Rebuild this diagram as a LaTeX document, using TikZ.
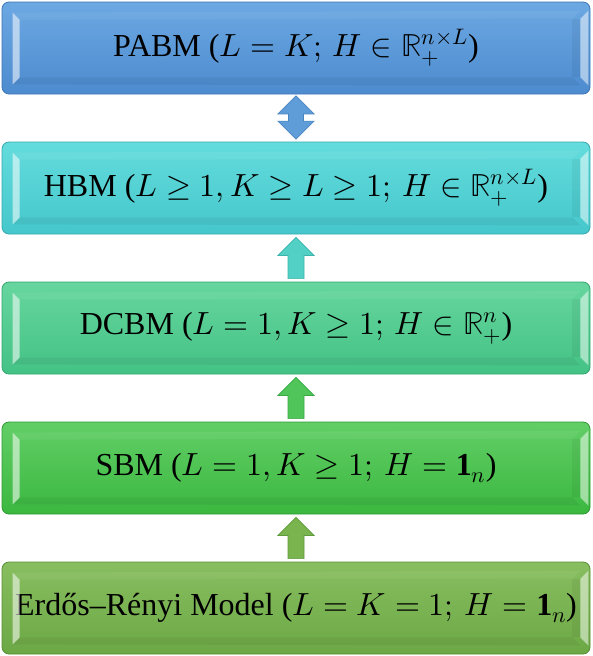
\documentclass[tikz,border=0pt]{standalone}
\usepackage{amsmath}
\usepackage{fontspec}
\usepackage{unicode-math}
\setmainfont{Liberation Serif}
\setmathfont{Latin Modern Math}
\usetikzlibrary{calc}
\definecolor{cAt}{HTML}{6CA8E2}\definecolor{cAb}{HTML}{4C8BCF}\definecolor{cAd}{HTML}{3F76B3}
\definecolor{cBt}{HTML}{64DCDD}\definecolor{cBb}{HTML}{45C7CB}\definecolor{cBd}{HTML}{35A9AE}
\definecolor{cCt}{HTML}{66D69E}\definecolor{cCb}{HTML}{44C285}\definecolor{cCd}{HTML}{34A46E}
\definecolor{cDt}{HTML}{62CE66}\definecolor{cDb}{HTML}{3BB840}\definecolor{cDd}{HTML}{2F9A34}
\definecolor{cEt}{HTML}{88BE60}\definecolor{cEb}{HTML}{6CA845}\definecolor{cEd}{HTML}{578E35}
\definecolor{aA}{HTML}{5E9DD8}\definecolor{aAd}{HTML}{4A84C0}
\definecolor{aB}{HTML}{52D0C6}\definecolor{aBd}{HTML}{3DB3AA}
\definecolor{aC}{HTML}{4FC55A}\definecolor{aCd}{HTML}{3AA845}
\definecolor{aD}{HTML}{7AB44F}\definecolor{aDd}{HTML}{5F9A3A}
\tikzset{
  modelbox/.style={rectangle, rounded corners=7pt, minimum width=588pt, minimum height=92pt,
    inner sep=0pt, line width=0.8pt, text=black, font=\fontsize{32}{38}\selectfont},
  blkarrow/.style={line width=0.7pt, line join=miter},
}
\newcommand\mybevel[1]{%
  \fill[white,opacity=0.55] ([xshift=11pt,yshift=-11pt]#1.north west) -- ([xshift=18pt,yshift=-18pt]#1.north west)
     -- ([xshift=18pt,yshift=17pt]#1.south west) -- ([xshift=11pt,yshift=10pt]#1.south west) -- cycle;
  \fill[black,opacity=0.05] ([xshift=-10pt,yshift=-17pt]#1.north east) -- ([xshift=-18pt,yshift=-17pt]#1.north east)
     -- ([xshift=-18pt,yshift=17pt]#1.south east) -- ([xshift=-10pt,yshift=17pt]#1.south east) -- cycle;
  \fill[white,opacity=0.5] ([xshift=-2pt,yshift=-9pt]#1.north east) -- ([xshift=-10pt,yshift=-17pt]#1.north east)
     -- ([xshift=-10pt,yshift=17pt]#1.south east) -- ([xshift=-2pt,yshift=9pt]#1.south east) -- cycle;
  \fill[black,opacity=0.05] ([xshift=11pt,yshift=10pt]#1.south west) -- ([xshift=18pt,yshift=17pt]#1.south west)
     -- ([xshift=-18pt,yshift=17pt]#1.south east) -- ([xshift=-10pt,yshift=9pt]#1.south east) -- cycle;
  \fill[white,opacity=0.06] ([xshift=11pt,yshift=-11pt]#1.north west) -- ([xshift=18pt,yshift=-18pt]#1.north west)
     -- ([xshift=-18pt,yshift=-17pt]#1.north east) -- ([xshift=-10pt,yshift=-9pt]#1.north east) -- cycle;
}
\newcommand\myuparrow[3]{%
  \path ([yshift=-3pt]#2.south) coordinate (t) ([yshift=3pt]#1.north) coordinate (s);
  \draw[blkarrow,#3] (t) -- ++(18,18) -- ++(-10,0) -- ([xshift=8pt]s) -- ([xshift=-8pt]s)
     -- ([xshift=-8pt,yshift=-18pt]t) -- ++(-10,0) -- cycle;
}
\begin{document}
\begin{tikzpicture}[x=1pt,y=-1pt]
\useasboundingbox (0,0) rectangle (592,656);
\node[modelbox, top color=cAt, bottom color=cAb, draw=cAd] (pabm) at (296,48)
  {PABM ($L = K;\, H \in \mathbb{R}_+^{n\times L}$)};
\node[modelbox, top color=cBt, bottom color=cBb, draw=cBd] (hbm) at (296,188)
  {HBM ($L \geq 1, K \geq L \geq 1;\, H \in \mathbb{R}_+^{n\times L}$)};
\node[modelbox, top color=cCt, bottom color=cCb, draw=cCd] (dcbm) at (296,328)
  {DCBM ($L = 1, K \geq 1;\, H \in \mathbb{R}_+^{n}$)};
\node[modelbox, top color=cDt, bottom color=cDb, draw=cDd] (sbm) at (296,468)
  {SBM ($L = 1, K \geq 1;\, H = \mathbf{1}_n$)};
\node[modelbox, top color=cEt, bottom color=cEb, draw=cEd] (er) at (296,608)
  {Erdős–Rényi Model ($L = K = 1;\, H = \mathbf{1}_n$)};
\mybevel{pabm}\mybevel{hbm}\mybevel{dcbm}\mybevel{sbm}\mybevel{er}
% double arrow PABM <-> HBM
\path ([yshift=-1.5pt]pabm.south) coordinate (dt) ([yshift=2.5pt]hbm.north) coordinate (ds);
\draw[blkarrow, fill=aA, draw=aAd] (dt) -- ++(18,18) -- ++(-10.5,0) -- ([xshift=7.5pt,yshift=18pt]ds)
  -- ++(10.5,0) -- (ds) -- ++(-18,-18) -- ++(10.5,0) -- ([xshift=-7.5pt,yshift=-18pt]dt) -- ++(-10.5,0) -- cycle;
\myuparrow{dcbm}{hbm}{fill=aB, draw=aBd}
\myuparrow{sbm}{dcbm}{fill=aC, draw=aCd}
\myuparrow{er}{sbm}{fill=aD, draw=aDd}
\end{tikzpicture}
\end{document}
